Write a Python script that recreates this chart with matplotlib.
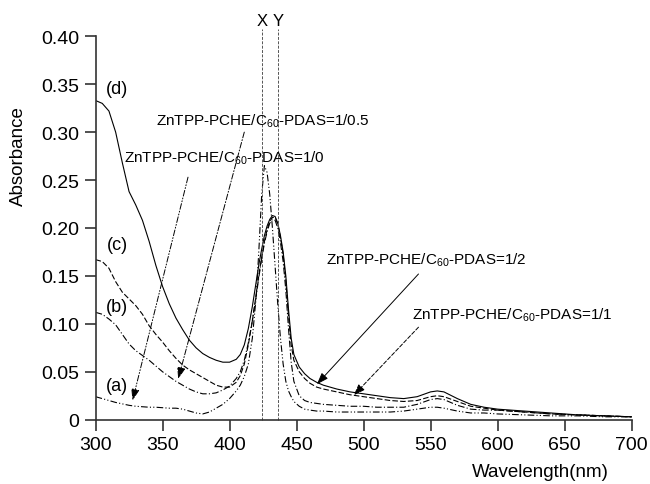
import matplotlib
matplotlib.use('Agg')
import matplotlib.pyplot as plt
from matplotlib.ticker import FuncFormatter

plt.rcParams['font.family'] = ['Liberation Sans', 'DejaVu Sans']
plt.rcParams['mathtext.fontset'] = 'custom'
plt.rcParams['mathtext.rm'] = 'Liberation Sans'

# wavelength grid (nm) and absorbance
wavelength = [300, 305, 310, 315, 320, 325, 330, 335, 340, 345, 350, 355, 360, 365, 370,
              375, 380, 385, 390, 395, 400, 405, 408, 411, 414, 417, 420, 422, 424, 426,
              428, 430, 432, 434, 436, 438, 440, 442, 444, 446, 448, 452, 456, 460, 465,
              470, 480, 490, 500, 510, 520, 530, 540, 550, 555, 560, 570, 580, 590, 600,
              620, 640, 660, 680, 700]

abs_a = [0.024, 0.022, 0.020, 0.018, 0.0165, 0.015, 0.014, 0.0135, 0.013, 0.013, 0.0125,
         0.012, 0.012, 0.011, 0.009, 0.007, 0.006, 0.008, 0.012, 0.016, 0.022, 0.030, 0.036,
         0.045, 0.058, 0.085, 0.130, 0.180, 0.235, 0.265, 0.258, 0.235, 0.200, 0.160, 0.120,
         0.085, 0.058, 0.040, 0.030, 0.024, 0.019, 0.014, 0.011, 0.010, 0.009, 0.009, 0.008,
         0.008, 0.008, 0.008, 0.008, 0.009, 0.011, 0.013, 0.013, 0.012, 0.009, 0.007, 0.007,
         0.006, 0.005, 0.004, 0.004, 0.003, 0.003]

abs_b = [0.112, 0.110, 0.105, 0.099, 0.089, 0.079, 0.072, 0.067, 0.062, 0.056, 0.050,
         0.045, 0.040, 0.036, 0.032, 0.029, 0.027, 0.027, 0.028, 0.031, 0.035, 0.043, 0.050,
         0.062, 0.080, 0.103, 0.130, 0.150, 0.168, 0.184, 0.196, 0.205, 0.209, 0.208, 0.200,
         0.185, 0.165, 0.135, 0.095, 0.060, 0.040, 0.025, 0.020, 0.018, 0.017, 0.016, 0.015,
         0.014, 0.014, 0.013, 0.013, 0.013, 0.016, 0.021, 0.022, 0.021, 0.015, 0.011, 0.010,
         0.010, 0.008, 0.006, 0.005, 0.004, 0.003]

abs_c = [0.167, 0.165, 0.158, 0.144, 0.133, 0.126, 0.119, 0.110, 0.098, 0.089, 0.081,
         0.072, 0.064, 0.057, 0.052, 0.048, 0.044, 0.040, 0.036, 0.034, 0.034, 0.039, 0.046,
         0.058, 0.078, 0.103, 0.132, 0.152, 0.170, 0.186, 0.198, 0.207, 0.211, 0.211, 0.204,
         0.190, 0.172, 0.145, 0.108, 0.078, 0.062, 0.050, 0.043, 0.038, 0.034, 0.032, 0.029,
         0.026, 0.024, 0.022, 0.020, 0.019, 0.020, 0.024, 0.025, 0.024, 0.019, 0.014, 0.012,
         0.010, 0.008, 0.006, 0.005, 0.004, 0.003]

abs_d = [0.333, 0.330, 0.322, 0.300, 0.268, 0.238, 0.224, 0.208, 0.186, 0.161, 0.139,
         0.121, 0.106, 0.094, 0.083, 0.075, 0.069, 0.065, 0.062, 0.060, 0.060, 0.063, 0.068,
         0.078, 0.095, 0.118, 0.145, 0.163, 0.178, 0.192, 0.202, 0.209, 0.213, 0.212, 0.205,
         0.192, 0.175, 0.150, 0.115, 0.085, 0.068, 0.055, 0.048, 0.043, 0.039, 0.036, 0.032,
         0.029, 0.027, 0.025, 0.023, 0.022, 0.024, 0.029, 0.030, 0.029, 0.022, 0.016, 0.013,
         0.011, 0.009, 0.007, 0.005, 0.004, 0.003]

curve_tags = ['(a)', '(b)', '(c)', '(d)']
tag_y = [0.036, 0.118, 0.183, 0.346]

fig = plt.figure(figsize=(6.5, 4.85), dpi=100)
ax = fig.add_axes([0.147, 0.1326, 0.8246, 0.7905])

ax.plot(wavelength, abs_a, color='black', lw=0.8, linestyle=(0, (6, 2, 1, 2, 1, 2)))
ax.plot(wavelength, abs_b, color='black', lw=0.8, linestyle=(0, (6, 2, 1, 2)))
ax.plot(wavelength, abs_c, color='black', lw=0.8, linestyle=(0, (5, 2)))
ax.plot(wavelength, abs_d, color='black', lw=0.8, linestyle='-')

# X / Y guide lines at the Soret peaks
for xv, name in [(424, 'X'), (436, 'Y')]:
    ax.plot([xv, xv], [0, 0.408], color='#555555', lw=0.7, linestyle=(0, (3, 1.5)),
            clip_on=False)
    ax.text(xv, 0.409, name, ha='center', va='bottom', fontsize=12)

for tag, ty in zip(curve_tags, tag_y):
    ax.text(316, ty, tag, ha='center', va='center', fontsize=13)

# annotations: ratio, label centre, arrow start, arrow tip, line style
ann = [
    ('1/0', (396, 0.274), (369, 0.253), (327.6, 0.020), (0, (6, 2, 1, 2, 1, 2))),
    ('1/0.5', (425, 0.312), (411, 0.300), (361.7, 0.0425), (0, (6, 2, 1, 2))),
    ('1/2', (547, 0.1677), (541, 0.152), (465.2, 0.037), '-'),
    ('1/1', (611, 0.110), (541, 0.0965), (492.6, 0.0253), (0, (4, 2))),
]
for r, tpos, start, tip, ls in ann:
    ax.text(tpos[0], tpos[1], 'ZnTPP-PCHE/C$_{\\mathregular{60}}$-PDAS=' + r,
            ha='center', va='center', fontsize=11)
    ax.annotate('', xy=tip, xytext=start,
                arrowprops=dict(arrowstyle='-|>,head_length=0.7,head_width=0.25',
                                color='black', lw=0.7, linestyle=ls,
                                shrinkA=0, shrinkB=0))

ax.set_xlim(300, 700)
ax.set_ylim(0, 0.40)
ax.set_xticks(range(300, 701, 50))
ax.set_yticks([0, 0.05, 0.10, 0.15, 0.20, 0.25, 0.30, 0.35, 0.40])
ax.yaxis.set_major_formatter(FuncFormatter(lambda v, p: '0' if v == 0 else '%.2f' % v))

for s in ['top', 'right']:
    ax.spines[s].set_visible(False)
for s in ['left', 'bottom']:
    ax.spines[s].set_linewidth(1.2)
    ax.spines[s].set_color('#333333')
ax.tick_params(direction='out', length=8, width=1.2, color='#333333',
               labelsize=14, pad=4)

ax.set_ylabel('Absorbance', fontsize=13.5)
ax.set_xlabel('Wavelength(nm)', fontsize=13.5)
ax.yaxis.set_label_coords(-0.128, 0.69)
ax.xaxis.set_label_coords(0.83, -0.112)

fig.savefig('out.png', dpi=100)
